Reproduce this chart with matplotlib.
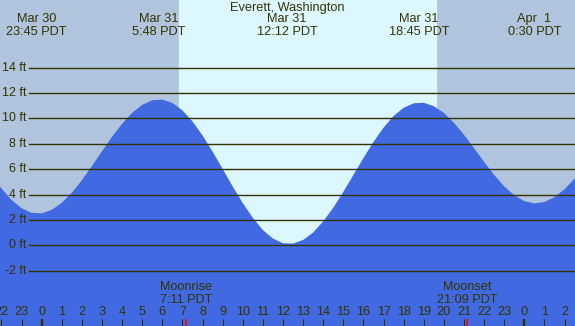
import numpy as np
import matplotlib
matplotlib.use('Agg')
import matplotlib.pyplot as plt

plt.rcParams['font.family'] = ['Liberation Sans', 'DejaVu Sans']

# tide level (ft), every half hour, hours from Mar 31 00:00 PDT
hours = [-2.5, -2.0, -1.5, -1.0, -0.5, 0.0, 0.5, 1.0, 1.5, 2.0, 2.5, 3.0, 3.5, 4.0,
         4.5, 5.0, 5.5, 6.0, 6.5, 7.0, 7.5, 8.0, 8.5, 9.0, 9.5, 10.0, 10.5, 11.0,
         11.5, 12.0, 12.5, 13.0, 13.5, 14.0, 14.5, 15.0, 15.5, 16.0, 16.5, 17.0,
         17.5, 18.0, 18.5, 19.0, 19.5, 20.0, 20.5, 21.0, 21.5, 22.0, 22.5, 23.0,
         23.5, 24.0, 24.5, 25.0, 25.5, 26.0, 26.5, 27.0]
level = [5.56, 4.48, 3.58, 2.92, 2.56, 2.52, 2.79, 3.35, 4.14, 5.13, 6.25, 7.41, 8.55, 9.58,
         10.44, 11.07, 11.43, 11.48, 11.22, 10.63, 9.76, 8.65, 7.38, 6.01, 4.63, 3.32, 2.16, 1.20,
         0.53, 0.16, 0.13, 0.42, 1.01, 1.88, 2.96, 4.21, 5.54, 6.88, 8.15, 9.27,
         10.19, 10.84, 11.19, 11.23, 10.96, 10.43, 9.65, 8.71, 7.65, 6.57, 5.54, 4.64,
         3.94, 3.48, 3.30, 3.41, 3.79, 4.42, 5.25, 6.22]

# high / low tide labels
tide_times = [-0.25, 5.8, 12.2, 18.75, 24.5]
tide_days = ['Mar 30', 'Mar 31', 'Mar 31', 'Mar 31', 'Apr  1']
tide_clock = ['23:45 PDT', '5:48 PDT', '12:12 PDT', '18:45 PDT', '0:30 PDT']

sunrise = 6.82
sunset = 19.61

moon_times = [7 + 11/60, 21 + 9/60]
moon_names = ['Moonrise', 'Moonset']
moon_clock = ['7:11 PDT', '21:09 PDT']

grid_ft = [-2, 0, 2, 4, 6, 8, 10, 12, 14]
hour_ticks = list(range(-2, 27))

title = 'Everett, Washington'

W, H = 575, 326
txt = '#333300'

fig = plt.figure(figsize=(W/100, H/100), dpi=100)
ax = fig.add_axes([0, 0, 1, 1])
ax.set_xlim(-41.7/20.11, (W-41.7)/20.11)
ax.set_ylim(-6.36, 19.33)
ax.axis('off')

# night / day background
ax.axvspan(-10, 40, color='#b0c4de', zorder=0)
ax.axvspan(sunrise, sunset, color='#ddf7ff', zorder=1)

# water
ax.fill_between(hours, level, -20, color='#4169e1', lw=0, zorder=2)

# grid lines with ft labels
for v in grid_ft:
    ax.axhline(v, xmin=29/W, xmax=1, color=txt, lw=1.0, zorder=3)
    ax.text(26.5/W, v, '%d ft' % v, transform=ax.get_yaxis_transform(),
            ha='right', va='center', fontsize=8.9, color=txt, zorder=4)

# top labels
def fy(py):
    return 1 - py/H

ax.text(0.5, fy(7.5), title, transform=ax.transAxes, ha='center', va='center',
        fontsize=9.2, color=txt)
xt = ax.get_xaxis_transform()
for t, d, c in zip(tide_times, tide_days, tide_clock):
    ax.text(t, fy(19.3), d, transform=xt, ha='center', va='center', fontsize=9.2, color=txt)
    ax.text(t, fy(31.7), c, transform=xt, ha='center', va='center', fontsize=9.2, color=txt)

# hour ticks along the bottom
for h in hour_ticks:
    midnight = (h % 24 == 0)
    ax.vlines(h, 0, 7/H, transform=xt, color=txt, lw=1.7 if midnight else 0.8, zorder=5)
    ax.text(h, fy(311.7), str(h % 24), transform=xt, ha='center', va='center',
            fontsize=9.1, color=txt, zorder=5)

# moon events
for t, n, c in zip(moon_times, moon_names, moon_clock):
    ax.vlines(t, 0, 7/H, transform=xt, color='red', lw=1.2, zorder=6)
    ax.text(t, fy(287.3), n, transform=xt, ha='center', va='center', fontsize=9.1, color=txt)
    ax.text(t, fy(300), c, transform=xt, ha='center', va='center', fontsize=9.1, color=txt)

fig.savefig('out.png', dpi=100)
